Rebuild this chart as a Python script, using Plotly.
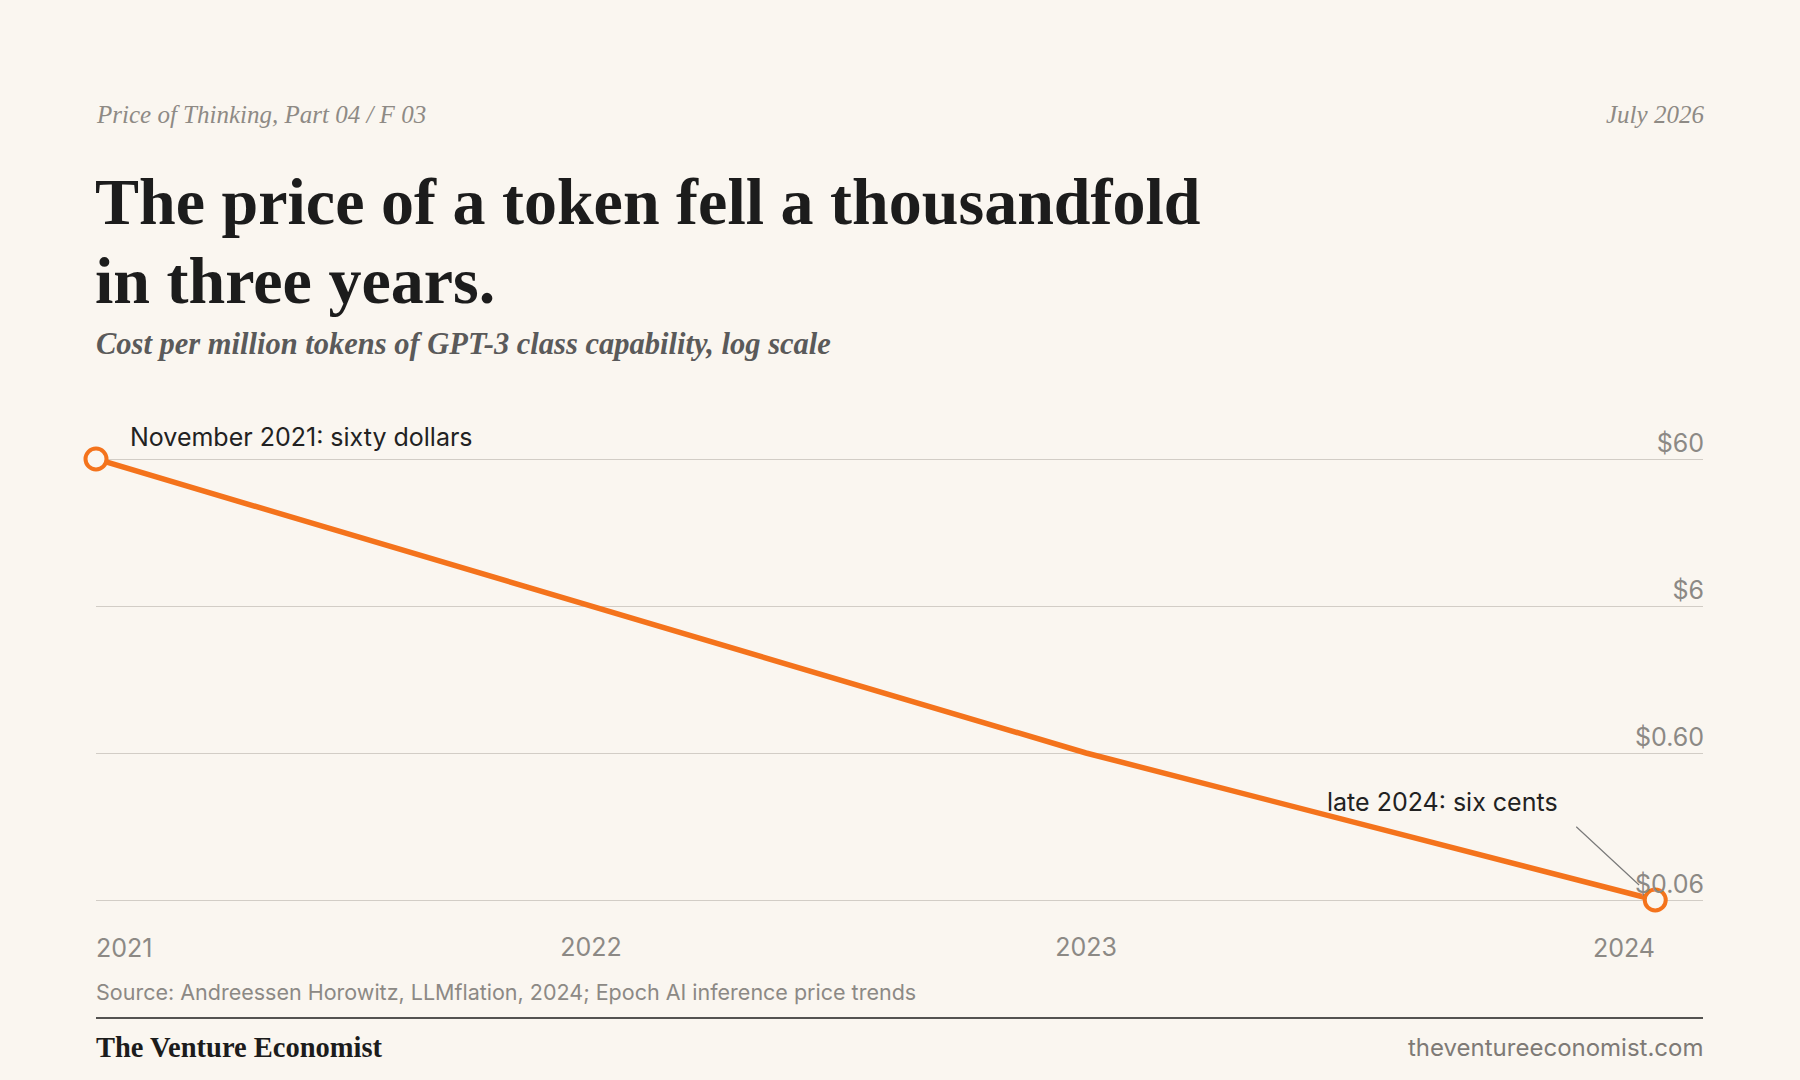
import math

import plotly.graph_objects as go

# data
years = [2021, 2022, 2023, 2024.15]
price = [60, 6, 0.6, 0.06]
price_ticks = [60, 6, 0.6, 0.06]
price_labels = ["$60", "$6", "$0.60", "$0.06"]
year_ticks = [2022, 2023]
year_labels = ["2022", "2023"]

BG = "#FAF6F0"
ORANGE = "#F4731C"
GRID = "#D2CDC6"
GREY = "#8C8985"
INK = "#1C1C1C"
SERIF = "Liberation Serif, Times New Roman, serif"
SANS = "Inter, Roboto, sans-serif"

W, H = 1800, 1080
ML, MR, MT, MB = 96, 97, 424, 165
PLOT_H = H - MT - MB
DECADE = 147  # px per decade on the log axis


def py(p):
    # pixel row -> paper y
    return (H - MB - p) / PLOT_H


lo = math.log10(min(price_ticks)) - 15 / DECADE
hi = math.log10(max(price_ticks)) + 35 / DECADE

fig = go.Figure()

fig.add_trace(go.Scatter(
    x=years, y=price, mode="lines",
    line=dict(color=ORANGE, width=5.5),
    hoverinfo="skip", showlegend=False,
))
fig.add_trace(go.Scatter(
    x=[years[0], years[-1]], y=[price[0], price[-1]], mode="markers",
    marker=dict(symbol="circle", size=21, color=BG,
                line=dict(color=ORANGE, width=4)),
    cliponaxis=False, hoverinfo="skip", showlegend=False,
))

ann = []
ann.append(dict(text="<i>Price of Thinking, Part 04 / F 03</i>", x=0, y=py(114),
                xref="paper", yref="paper", xanchor="left", yanchor="middle", xshift=-2,
                font=dict(family=SERIF, size=25, color="#8E8A85")))
ann.append(dict(text="<i>July 2026</i>", x=1, y=py(114),
                xref="paper", yref="paper", xanchor="right", yanchor="middle", xshift=3,
                font=dict(family=SERIF, size=25, color="#8E8A85")))
ann.append(dict(text="<b>The price of a token fell a thousandfold</b>", x=0, y=py(202),
                xref="paper", yref="paper", xanchor="left", yanchor="middle", xshift=-3,
                font=dict(family=SERIF, size=66, color=INK)))
ann.append(dict(text="<b>in three years.</b>", x=0, y=py(280),
                xref="paper", yref="paper", xanchor="left", yanchor="middle", xshift=-3,
                font=dict(family=SERIF, size=66, color=INK)))
ann.append(dict(text="<b><i>Cost per million tokens of GPT-3 class capability, log scale</i></b>",
                x=0, y=py(344), xref="paper", yref="paper", xanchor="left", yanchor="middle",
                xshift=-2,
                font=dict(family=SERIF, size=30.5, color="#5A5A5A")))

# point callouts (annotation y on a log axis is given in log10 units)
ann.append(dict(text="November 2021: sixty dollars", x=years[0], y=math.log10(price[0]),
                xref="x", yref="y", xanchor="left", yanchor="middle",
                xshift=32, yshift=22,
                font=dict(family=SANS, size=25, color="#222222")))
ann.append(dict(text="late 2024: six cents", x=years[-1], y=math.log10(price[-1]),
                xref="x", yref="y", xanchor="right", yanchor="middle",
                xshift=-95, yshift=98,
                font=dict(family=SANS, size=25, color="#222222")))
ann.append(dict(text=" ", x=years[-1], y=math.log10(price[-1]), xref="x", yref="y",
                showarrow=True, arrowhead=0, arrowwidth=1.2, arrowcolor="#7A7A7A",
                ax=-82, ay=-76, standoff=22))

# end year labels, anchored to the first and last points
ann.append(dict(text="2021", x=years[0], y=0, xref="x", yref="paper",
                xanchor="left", yanchor="top", yshift=-16, xshift=-2,
                font=dict(family=SANS, size=25, color=GREY)))
ann.append(dict(text="2024", x=years[-1], y=0, xref="x", yref="paper",
                xanchor="right", yanchor="top", yshift=-16, xshift=2,
                font=dict(family=SANS, size=25, color=GREY)))

# footer
ann.append(dict(text="Source: Andreessen Horowitz, LLMflation, 2024; Epoch AI inference price trends",
                x=0, y=py(992), xref="paper", yref="paper", xanchor="left", yanchor="middle",
                xshift=-2,
                font=dict(family=SANS, size=21.5, color=GREY)))
ann.append(dict(text="<b>The Venture Economist</b>", x=0, y=py(1047),
                xref="paper", yref="paper", xanchor="left", yanchor="middle", xshift=-2,
                font=dict(family=SERIF, size=28.5, color=INK)))
ann.append(dict(text="theventureeconomist.com", x=1, y=py(1047),
                xref="paper", yref="paper", xanchor="right", yanchor="middle", xshift=3,
                font=dict(family=SANS, size=24, color="#7E7A76")))

for a in ann:
    a.setdefault("showarrow", False)

fig.update_layout(
    width=W, height=H,
    paper_bgcolor=BG, plot_bgcolor=BG,
    margin=dict(l=ML, r=MR, t=MT, b=MB),
    annotations=ann,
    shapes=[dict(type="line", xref="paper", yref="paper", x0=0, x1=1,
                 y0=py(1018), y1=py(1018), line=dict(color=INK, width=1.5))],
    showlegend=False,
)

fig.update_xaxes(
    range=[2021, 2021 + 1607 / 495], showgrid=False, zeroline=False, showline=False,
    tickvals=year_ticks, ticktext=year_labels,
    ticks="outside", ticklen=10, tickcolor="rgba(0,0,0,0)",
    tickfont=dict(family=SANS, size=25, color=GREY),
)
fig.update_yaxes(
    type="log", range=[lo, hi], side="right",
    tickvals=price_ticks, ticktext=price_labels,
    ticklabelposition="inside top", ticklabelstandoff=-4, ticklabelshift=2,
    showgrid=True, gridcolor=GRID, gridwidth=1.3,
    zeroline=False, showline=False, ticks="",
    tickfont=dict(family=SANS, size=25, color=GREY),
)

fig.write_html("out.html", config={"displayModeBar": False},
               post_script="document.body.style.margin = '0';")
